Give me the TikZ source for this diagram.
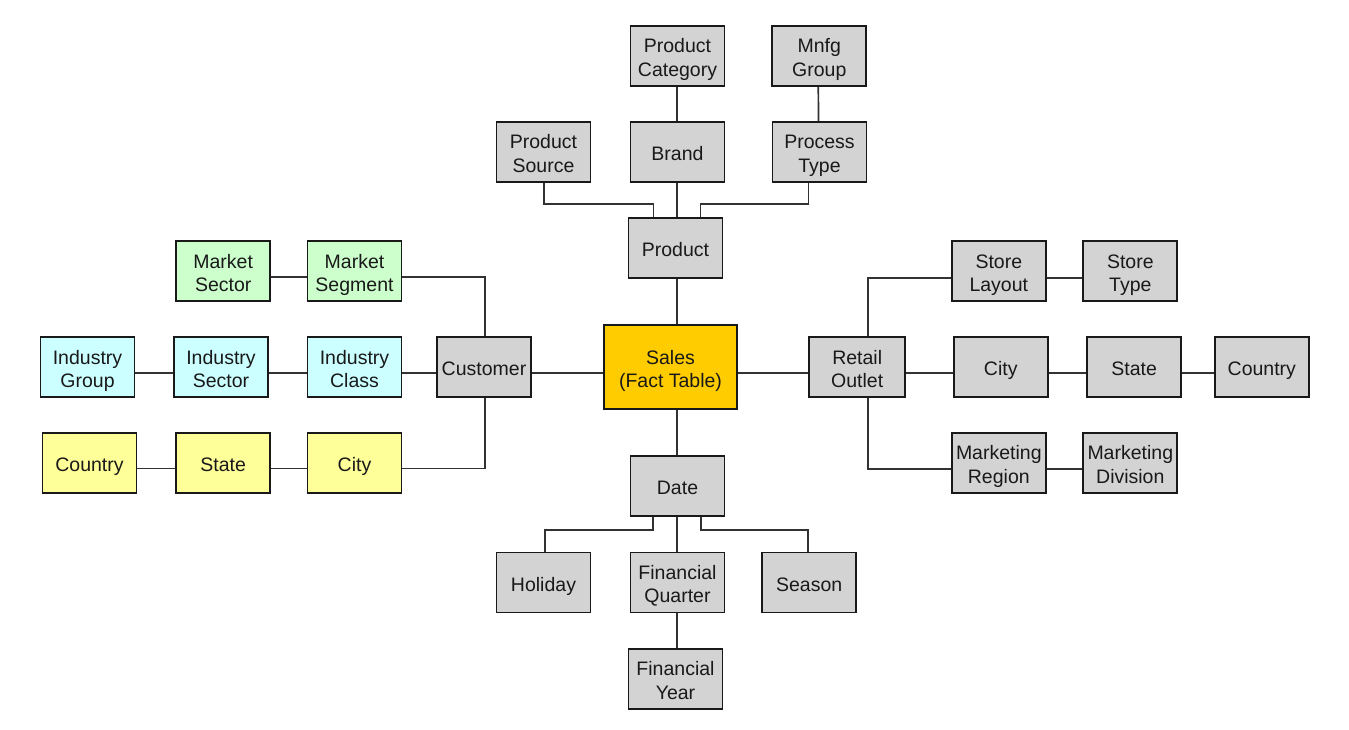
\documentclass[tikz,border=0pt]{standalone}
\usepackage{fontspec}
\setmainfont{Liberation Sans}
\definecolor{boxgray}{RGB}{211,211,211}
\definecolor{boxgreen}{RGB}{204,255,204}
\definecolor{boxcyan}{RGB}{204,255,255}
\definecolor{boxyellow}{RGB}{255,255,153}
\definecolor{boxorange}{RGB}{255,204,0}
\definecolor{edgecol}{RGB}{25,25,25}
\definecolor{linecol}{RGB}{50,50,50}
\definecolor{textcol}{RGB}{25,25,25}
\newcommand\boxtext[1]{\raisebox{-4pt}[\height][\depth]{\begin{tabular}{@{}c@{}}#1\end{tabular}}}
\tikzset{
  tbl/.style={draw=edgecol, line width=1.9pt, rectangle, fill=boxgray, inner sep=0pt,
    minimum width=94pt, minimum height=60pt, text=textcol,
    font=\fontsize{19.5}{23.5}\selectfont},
  grn/.style={tbl, fill=boxgreen},
  cyn/.style={tbl, fill=boxcyan},
  yel/.style={tbl, fill=boxyellow},
  conn/.style={draw=linecol, line width=1.7pt}
}
\begin{document}
\begin{tikzpicture}[x=1pt,y=-1pt]
\useasboundingbox[fill=white] (0,0) rectangle (1349,730);
% product branch
\node[tbl] (pcat) at (677.5,56) {\boxtext{Product\\Category}};
\node[tbl] (mnfg) at (819.3,56) {\boxtext{Mnfg\\Group}};
\node[tbl] (psrc) at (543.5,152) {\boxtext{Product\\Source}};
\node[tbl] (brand) at (677.5,152) {\boxtext{Brand}};
\node[tbl] (ptype) at (819.5,152) {\boxtext{Process\\Type}};
\node[tbl] (product) at (675.5,248) {\boxtext{Product}};
% customer branch
\node[grn] (msector) at (223.2,271.3) {\boxtext{Market\\Sector}};
\node[grn] (msegment) at (354.5,271.3) {\boxtext{Market\\Segment}};
\node[cyn] (igroup) at (87.5,367.2) {\boxtext{Industry\\Group}};
\node[cyn] (isector) at (221,367.2) {\boxtext{Industry\\Sector}};
\node[cyn] (iclass) at (354.5,367.2) {\boxtext{Industry\\Class}};
\node[tbl] (customer) at (484,367.2) {\boxtext{Customer}};
\node[yel] (lcountry) at (89.5,463) {\boxtext{Country}};
\node[yel] (lstate) at (223.2,463) {\boxtext{State}};
\node[yel] (lcity) at (354.5,463) {\boxtext{City}};
% fact
\node[tbl, fill=boxorange, minimum width=133pt, minimum height=84pt] (sales) at (670.5,367.2) {\boxtext{Sales\\(Fact Table)}};
% retail branch
\node[tbl, minimum width=95.7pt] (retail) at (857.2,367.2) {\boxtext{Retail\\Outlet}};
\node[tbl] (slayout) at (998.8,271.3) {\boxtext{Store\\Layout}};
\node[tbl] (stype) at (1130.3,271.3) {\boxtext{Store\\Type}};
\node[tbl] (rcity) at (1000.7,367.2) {\boxtext{City}};
\node[tbl] (rstate) at (1134.2,367.2) {\boxtext{State}};
\node[tbl] (rcountry) at (1261.8,367.2) {\boxtext{Country}};
\node[tbl] (mregion) at (998.8,463) {\boxtext{Marketing\\Region}};
\node[tbl] (mdivision) at (1130.3,463) {\boxtext{Marketing\\Division}};
% date branch
\node[tbl] (date) at (677.5,486) {\boxtext{Date}};
\node[tbl] (holiday) at (543.5,582.5) {\boxtext{Holiday}};
\node[tbl] (fquarter) at (677.5,582.5) {\boxtext{Financial\\Quarter}};
\node[tbl] (season) at (809.2,582.5) {\boxtext{Season}};
\node[tbl] (fyear) at (675.5,678.7) {\boxtext{Financial\\Year}};

% connectors: product
\draw[conn] ([xshift=-0.8pt]pcat.south) -- ([xshift=-0.8pt]brand.north);
\draw[conn] ([xshift=-1pt]mnfg.south) -- ([xshift=-1pt]ptype.north);
\draw[conn] ([xshift=-0.8pt]brand.south) -- ([xshift=-0.8pt]brand.south |- product.north);
\draw[conn] ([xshift=-22pt]product.north) -- ++(0,-12.7) -| ([xshift=0.8pt]psrc.south);
\draw[conn] ([xshift=25pt]product.north) -- ++(0,-12.7) -| ([xshift=-11pt]ptype.south);
\draw[conn] ([xshift=1.2pt]product.south) -- ([xshift=1.2pt]product.south |- sales.north);
% customer
\draw[conn] ([yshift=-6pt]msector.east) -- ([yshift=-6pt]msegment.west);
\draw[conn] ([yshift=-6pt]msegment.east) -| ([xshift=1pt]customer.north);
\draw[conn] ([yshift=-6pt]igroup.east) -- ([yshift=-6pt]isector.west);
\draw[conn] ([yshift=-6pt]isector.east) -- ([yshift=-6pt]iclass.west);
\draw[conn] ([yshift=-6pt]iclass.east) -- ([yshift=-6pt]customer.west);
\draw[conn] ([yshift=-6pt]customer.east) -- ([yshift=-6pt]sales.west);
\draw[conn] ([yshift=-5.5pt]lcountry.east) -- ([yshift=-5.5pt]lstate.west);
\draw[conn] ([yshift=-5.5pt]lstate.east) -- ([yshift=-5.5pt]lcity.west);
\draw[conn] ([yshift=-5.5pt]lcity.east) -| ([xshift=1pt]customer.south);
% retail
\draw[conn] ([yshift=-6pt]sales.east) -- ([yshift=-6pt]retail.west);
\draw[conn] ([yshift=-6pt]retail.east) -- ([yshift=-6pt]rcity.west);
\draw[conn] ([yshift=-6pt]rcity.east) -- ([yshift=-6pt]rstate.west);
\draw[conn] ([yshift=-6pt]rstate.east) -- ([yshift=-6pt]rcountry.west);
\draw[conn] ([xshift=11pt]retail.north) |- ([yshift=-6.4pt]slayout.west);
\draw[conn] ([yshift=-6.4pt]slayout.east) -- ([yshift=-6.4pt]stype.west);
\draw[conn] ([xshift=11pt]retail.south) |- ([yshift=-5.7pt]mregion.west);
\draw[conn] ([yshift=-5.7pt]mregion.east) -- ([yshift=-5.7pt]mdivision.west);
% date
\draw[conn] ([xshift=-0.8pt]date.north |- sales.south) -- ([xshift=-0.8pt]date.north);
\draw[conn] ([xshift=-24.8pt]date.south) -- ++(0,12.7) -| ([xshift=1.5pt]holiday.north);
\draw[conn] ([xshift=23.2pt]date.south) -- ++(0,12.7) -| ([xshift=-0.9pt]season.north);
\draw[conn] ([xshift=-0.8pt]date.south) -- ([xshift=-0.8pt]fquarter.north);
\draw[conn] ([xshift=-0.8pt]fquarter.south) -- ([xshift=-0.8pt]fquarter.south |- fyear.north);
\end{tikzpicture}
\end{document}
